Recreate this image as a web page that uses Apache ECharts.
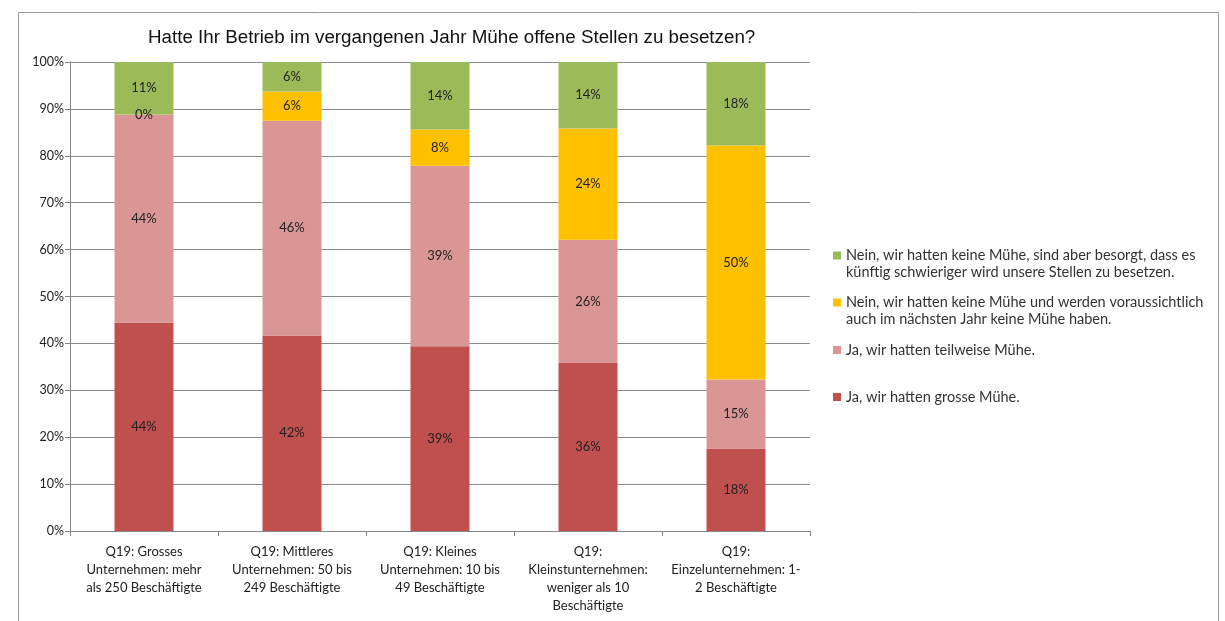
<!DOCTYPE html>
<html>
<head>
<meta charset="utf-8">
<script src="https://cdn.jsdelivr.net/npm/echarts@6/dist/echarts.min.js"></script>
<style>
  html, body { margin: 0; padding: 0; background: #fff; }
  #main { width: 1225px; height: 621px; }
</style>
</head>
<body>
<div id="main"></div>
<script>
  var categories = [
    'Q19: Grosses\nUnternehmen: mehr\nals 250 Beschäftigte',
    'Q19: Mittleres\nUnternehmen: 50 bis\n249 Beschäftigte',
    'Q19: Kleines\nUnternehmen: 10 bis\n49 Beschäftigte',
    'Q19:\nKleinstunternehmen:\nweniger als 10\nBeschäftigte',
    'Q19:\nEinzelunternehmen: 1-\n2 Beschäftigte'
  ];
  var seriesNames = [
    'Ja, wir hatten grosse Mühe.',
    'Ja, wir hatten teilweise Mühe.',
    'Nein, wir hatten keine Mühe und werden voraussichtlich\nauch im nächsten Jahr keine Mühe haben.',
    'Nein, wir hatten keine Mühe, sind aber besorgt, dass es\nkünftig schwieriger wird unsere Stellen zu besetzen.'
  ];
  var grosseMuehe    = [44.4, 41.7, 39.4, 35.8, 17.6];
  var teilweiseMuehe = [44.4, 45.8, 38.5, 26.3, 14.7];
  var keineMuehe     = [0, 6.2, 7.7, 23.7, 49.9];
  var besorgt        = [11.2, 6.3, 14.4, 14.2, 17.8];
  var yTicks = [0, 10, 20, 30, 40, 50, 60, 70, 80, 90, 100];

  var colors = ['#C0504D', '#D99694', '#FFC000', '#9BBB59'];
  var values = [grosseMuehe, teilweiseMuehe, keineMuehe, besorgt];

  var font = 'Lato, "Liberation Sans", sans-serif';

  var myChart = echarts.init(document.getElementById('main'));

  var series = seriesNames.map(function (name, i) {
    return {
      name: name,
      type: 'bar',
      stack: 'total',
      barWidth: 59,
      itemStyle: { color: colors[i] },
      label: {
        show: true,
        position: 'inside',
        color: '#222',
        fontFamily: font,
        fontSize: 13,
        formatter: function (p) { return Math.round(p.value) + '%'; }
      },
      data: values[i]
    };
  });

  // icon sits on the first text line: an empty line before a two-line name
  function legendAt(name, top) {
    return {
      orient: 'vertical',
      left: 833,
      top: top,
      padding: 0,
      itemWidth: 8,
      itemHeight: 8,
      icon: 'rect',
      selectedMode: false,
      data: [name],
      formatter: function (n) {
        return n.indexOf('\n') >= 0 ? ' \n' + n : n;
      },
      textStyle: {
        fontFamily: font,
        fontSize: 14.5,
        color: '#333',
        lineHeight: 17
      }
    };
  }

  var option = {
    animation: false,
    backgroundColor: '#fff',
    title: {
      text: 'Hatte Ihr Betrieb im vergangenen Jahr Mühe offene Stellen zu besetzen?',
      left: 148,
      top: 28,
      padding: 0,
      textStyle: {
        fontFamily: '"Liberation Sans", Arial, sans-serif',
        fontSize: 18.8,
        fontWeight: 'normal',
        color: '#111'
      }
    },
    graphic: [{
      type: 'rect',
      shape: { x: 18.5, y: 12.5, width: 1200, height: 620 },
      style: { fill: 'none', stroke: '#9a9a9a', lineWidth: 1 },
      silent: true
    }],
    legend: [
      legendAt(seriesNames[3], 230),
      legendAt(seriesNames[2], 277),
      legendAt(seriesNames[1], 341.5),
      legendAt(seriesNames[0], 388.5)
    ],
    grid: { left: 70, right: 415, top: 62, bottom: 90 },
    xAxis: {
      type: 'category',
      data: categories,
      axisLine: { lineStyle: { color: '#868686' } },
      axisTick: { show: true, length: 5, lineStyle: { color: '#868686' } },
      axisLabel: {
        interval: 0,
        margin: 12,
        color: '#222',
        fontFamily: font,
        fontSize: 13,
        lineHeight: 18
      }
    },
    yAxis: {
      type: 'value',
      min: yTicks[0],
      max: yTicks[yTicks.length - 1],
      interval: 10,
      axisLine: { show: true, lineStyle: { color: '#868686' } },
      axisTick: { show: true, length: 5, lineStyle: { color: '#868686' } },
      splitLine: { lineStyle: { color: '#8c8c8c', width: 1 } },
      axisLabel: {
        formatter: '{value}%',
        color: '#222',
        fontFamily: font,
        fontSize: 12.5,
        margin: 6
      }
    },
    series: series
  };

  myChart.setOption(option, true);
</script>
</body>
</html>
